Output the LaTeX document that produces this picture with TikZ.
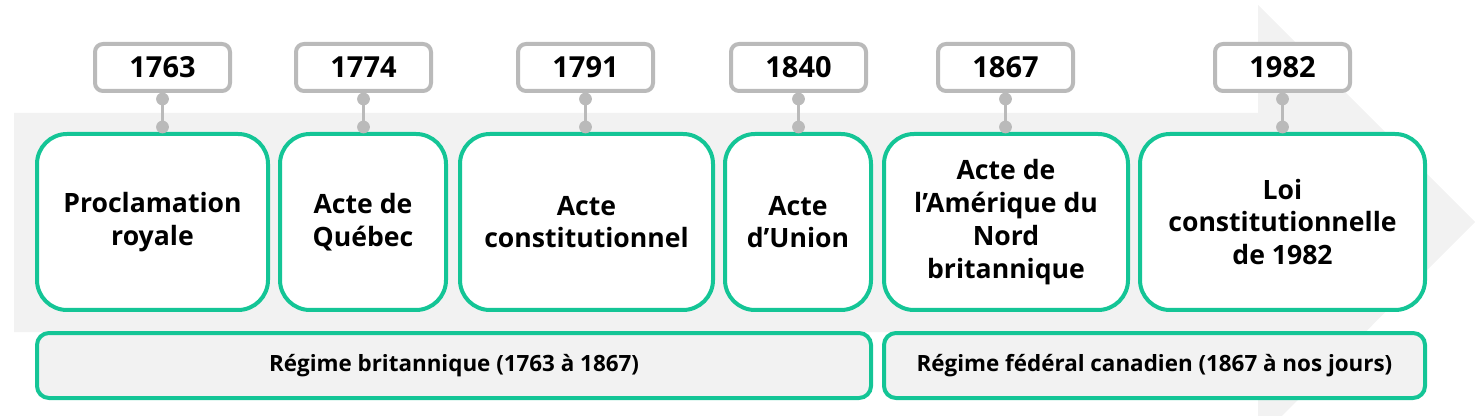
\documentclass[tikz,border=0pt]{standalone}
\usepackage{fontspec}
\setmainfont{Open Sans}
\usepackage{xcolor}
\usepackage{tikz}
\usetikzlibrary{calc}
\definecolor{jade}{HTML}{14C596}
\definecolor{pale}{HTML}{F2F2F2}
\definecolor{stone}{HTML}{BABABA}
\tikzset{yearbox/.style={draw=stone, line width=2pt, rounded corners=4pt, fill=white,
    minimum width=67.5pt, minimum height=23.5pt, inner sep=0pt,
    font=\fontsize{14.5}{17}\selectfont\bfseries}}
\tikzset{actbox/.style={draw=jade, line width=2pt, rounded corners=15pt, fill=white,
    minimum height=88pt, inner sep=0pt, align=center,
    font=\fontsize{13.3}{16.4}\selectfont\bfseries}}
\tikzset{erabox/.style={draw=jade, line width=2pt, rounded corners=6pt, fill=pale,
    minimum height=32.5pt, inner sep=0pt,
    font=\fontsize{11.2}{13}\selectfont\bfseries}}
\tikzset{link/.style={draw=stone, line width=1.5pt}}

\begin{document}
\begin{tikzpicture}[x=0.5pt,y=-0.5pt]
\useasboundingbox (0,0) rectangle (1475,416);
\clip (0,0) rectangle (1475,416);

% big arrow behind
\fill[pale] (14,113) -- (1258,113) -- (1258,5) -- (1475,222) -- (1258,440)
  -- (1258,332) -- (14,332) -- cycle;

% acts
\node[actbox, minimum width=115.5pt] (e1) at (152.5,222) {Proclamation\\royale};
\node[actbox, minimum width=83pt] (e2) at (363,222) {Acte de\\Québec};
\node[actbox, minimum width=126.5pt] (e3) at (586.5,222) {Acte\\constitutionnel};
\node[actbox, minimum width=73pt] (e4) at (798,222) {Acte\\d’Union};
\node[actbox, minimum width=122pt] (e5) at (1006,222) {Acte de\\l’Amérique du\\Nord\\britannique};
\node[actbox, minimum width=142.5pt] (e6) at (1282.5,222) {Loi\\constitutionnelle\\de 1982};

% years
\node[yearbox] (y1) at (162.5,67.5) {1763};
\node[yearbox] (y2) at (363.5,67.5) {1774};
\node[yearbox] (y3) at (585.5,67.5) {1791};
\node[yearbox] (y4) at (798.5,67.5) {1840};
\node[yearbox] (y5) at (1005.5,67.5) {1867};
\node[yearbox] (y6) at (1282.5,67.5) {1982};

\foreach \i in {1,...,6}{
  \coordinate (top\i) at ($(y\i.south)+(0,6)$);
  \coordinate (bot\i) at ($(top\i |- e\i.north)+(0,-5)$);
  \draw[link] (top\i) -- (bot\i);
  \fill[stone] (top\i) circle (3.2pt) (bot\i) circle (3.2pt);
}

% eras
\node[erabox, minimum width=417pt] (r1) at (454,365.5) {Régime britannique (1763 à 1867)};
\node[erabox, minimum width=270.5pt] (r2) at (1154.5,365.5) {Régime fédéral canadien (1867 à nos jours)};
\end{tikzpicture}
\end{document}
